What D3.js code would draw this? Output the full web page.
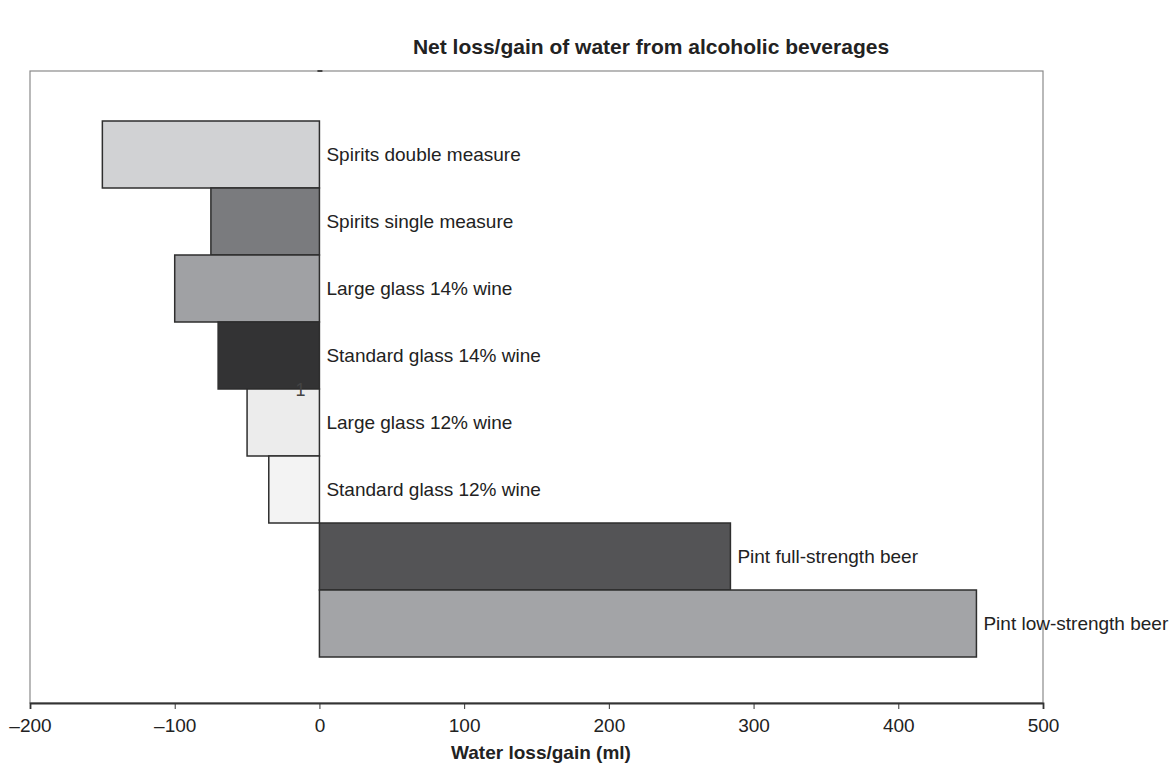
<!DOCTYPE html>
<html>
<head>
<meta charset="utf-8">
<script src="https://cdn.jsdelivr.net/npm/d3@7/dist/d3.min.js"></script>
<style>
  html, body { margin: 0; padding: 0; background: #fff; }
  svg { display: block; font-family: "Liberation Sans", Arial, Helvetica, sans-serif; }
</style>
</head>
<body>
<svg id="chart" width="1169" height="774"></svg>
<script>
// Beverages, top to bottom, with net water loss (negative) or gain (positive) in ml
const categories = [
  "Spirits double measure",
  "Spirits single measure",
  "Large glass 14% wine",
  "Standard glass 14% wine",
  "Large glass 12% wine",
  "Standard glass 12% wine",
  "Pint full-strength beer",
  "Pint low-strength beer"
];
const values = [-150, -75, -100, -70, -50, -35, 284, 454];
const fills = ["#d1d2d4", "#7a7b7e", "#a0a1a4", "#333334", "#ececec", "#f3f3f3", "#545456", "#a3a4a7"];
const xTicks = [-200, -100, 0, 100, 200, 300, 400, 500];

const svg = d3.select("#chart");
const frame = { left: 30, right: 1043, top: 71, bottom: 703 };

const x = d3.scaleLinear().domain([-200, 500]).range([frame.left, frame.right]);
const y = d3.scaleBand().domain(categories).range([121, 657]).padding(0);

// Title
svg.append("text")
  .attr("x", 651).attr("y", 46)
  .attr("text-anchor", "middle")
  .attr("dominant-baseline", "central")
  .attr("font-weight", "bold")
  .attr("font-size", 21)
  .attr("fill", "#222")
  .text("Net loss/gain of water from alcoholic beverages");

// Plot frame
svg.append("rect")
  .attr("x", frame.left).attr("y", frame.top)
  .attr("width", frame.right - frame.left)
  .attr("height", frame.bottom - frame.top)
  .attr("fill", "none")
  .attr("stroke", "#8a8a8a")
  .attr("stroke-width", 1.2);

// Small mark at zero on the top edge
svg.append("line")
  .attr("x1", x(0) - 2).attr("x2", x(0) + 3)
  .attr("y1", frame.top).attr("y2", frame.top)
  .attr("stroke", "#444").attr("stroke-width", 2);

// Bars
svg.append("g").selectAll("rect")
  .data(categories)
  .join("rect")
  .attr("x", (d, i) => x(Math.min(0, values[i])))
  .attr("y", d => y(d))
  .attr("width", (d, i) => Math.abs(x(values[i]) - x(0)))
  .attr("height", y.bandwidth())
  .attr("fill", (d, i) => fills[i])
  .attr("stroke", "#2e2e2e")
  .attr("stroke-width", 1.5);

// Bar labels
svg.append("g").selectAll("text")
  .data(categories)
  .join("text")
  .attr("x", (d, i) => x(Math.max(0, values[i])) + 7)
  .attr("y", d => y(d) + y.bandwidth() / 2)
  .attr("dy", "0.36em")
  .attr("font-size", 19)
  .attr("fill", "#222")
  .text(d => d);

// Stray series marker
svg.append("text")
  .attr("x", x(-13)).attr("y", 396)
  .attr("text-anchor", "middle")
  .attr("font-size", 18)
  .attr("fill", "#444")
  .text("1");

// X axis
const xAxis = d3.axisBottom(x)
  .tickValues(xTicks)
  .tickSize(6)
  .tickPadding(10)
  .tickFormat(d => d < 0 ? "\u2013" + Math.abs(d) : String(d));

const gx = svg.append("g")
  .attr("transform", `translate(0,${frame.bottom})`)
  .call(xAxis);
gx.select(".domain").attr("stroke", "#333").attr("stroke-width", 1.8);
gx.selectAll(".tick line").attr("stroke", "#333").attr("stroke-width", 1);
gx.selectAll(".tick text")
  .attr("font-size", 19)
  .attr("fill", "#222")
  .attr("font-family", "'Liberation Sans', Arial, sans-serif");

// X axis title
svg.append("text")
  .attr("x", 541).attr("y", 752)
  .attr("text-anchor", "middle")
  .attr("dominant-baseline", "central")
  .attr("font-weight", "bold")
  .attr("font-size", 19)
  .attr("fill", "#222")
  .text("Water loss/gain (ml)");
</script>
</body>
</html>
